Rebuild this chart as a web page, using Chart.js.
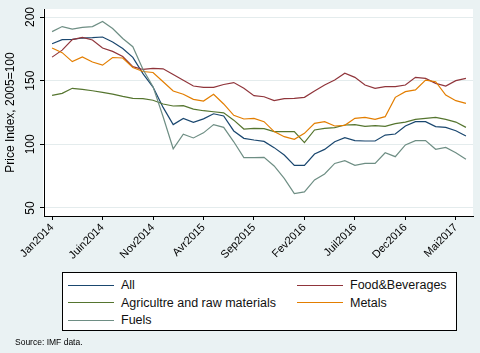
<!DOCTYPE html>
<html lang="fr">
<head>
<meta charset="UTF-8" />
<title>Commodity price indices</title>
<script src="https://cdn.jsdelivr.net/npm/chart.js@4.4.4/dist/chart.umd.min.js"></script>
<style>
  * { box-sizing: border-box; margin: 0; padding: 0; }
  body { width: 480px; height: 353px; background: #eaf2f3; position: relative; overflow: hidden; font-family: "Liberation Sans", Arial, sans-serif; }
  #chart { position: absolute; left: 0; top: 0; }
  .legend { position: absolute; left: 62px; top: 272px; width: 395px; height: 59px; background: #fff; border: 1px solid #000; font-size: 12.5px; color: #111; }
  .item { position: absolute; display: flex; align-items: center; height: 16px; }
  .item .ln { display: inline-block; width: 46px; border-top: 1px solid; margin-right: 7px; }
  .source { position: absolute; left: 15px; top: 337px; font-size: 8.5px; color: #000; }
</style>
</head>
<body>
<canvas id="chart" width="480" height="353"></canvas>
<div class="legend" id="legend"></div>
<div class="source">Source: IMF data.</div>
<script>
// monthly, Jan 2014 .. Jun 2017
const tickLabels = ['Jan2014', 'Juin2014', 'Nov2014', 'Avr2015', 'Sep2015', 'Fev2016', 'Juil2016', 'Dec2016', 'Mai2017']
const tickPos = [0, 5, 10, 15, 20, 25, 30, 35, 40]
const yTicks = [50, 100, 150, 200]

const seriesNames = ['All', 'Food&Beverages', 'Agricultre and raw materials', 'Metals', 'Fuels']
const colors = ['#1a476f', '#90353b', '#55752f', '#e37e00', '#6e8e84']

const all = [179, 182.2, 182.5, 183.5, 183.8, 184.3, 180.4, 175.3, 168.3, 155.5, 145, 129, 115.5, 120.3, 117.2, 120, 124, 122.3, 110.5, 104.7, 103.4, 102.3, 97.4, 91.6, 83.5, 83.5, 92.4, 96, 102.1, 105.2, 102.9, 102.6, 102.6, 107.3, 108.1, 114.4, 117.8, 117.8, 113.9, 113.3, 110.7, 106.5]
const food = [168.5, 174, 182.3, 184, 182, 175.6, 173, 169, 161, 158.8, 159.6, 159.3, 154.8, 150.4, 145.8, 144.7, 144.7, 147, 148.5, 144, 138.2, 137.4, 134.3, 135.9, 136.1, 136.9, 141.9, 146.6, 150.5, 155.8, 152.6, 146.6, 144, 145.3, 145.3, 146.6, 152.6, 151.8, 147.9, 145.8, 150, 151.8]
const agri = [138.5, 140, 144, 143.2, 142.1, 140.8, 139.5, 137.7, 136.1, 135.9, 134.6, 131.7, 130.1, 130.4, 127.7, 126.4, 125.6, 124.7, 119, 112, 112.5, 112.3, 110, 110, 110, 101.3, 111.3, 112.5, 113.1, 115.2, 115.4, 114.1, 114.7, 114.1, 116.2, 117.5, 119.6, 120.4, 121.2, 119.6, 117.5, 113.3]
const metals = [175.7, 172, 165, 168.7, 164.7, 162.2, 168.2, 167.8, 160.4, 157.2, 156.4, 149.2, 141.9, 139.3, 135.3, 134, 139.3, 131.7, 122.8, 119.9, 120.4, 117.8, 110, 106, 103.9, 108.6, 116.5, 117.8, 114.4, 114.9, 120.4, 121.2, 119.6, 121.7, 136.9, 141.4, 142.7, 150.5, 149.2, 138.7, 134.3, 132.2]
const fuels = [188.5, 192.5, 190.5, 191.8, 192.5, 196.5, 191, 183.1, 176.7, 159, 145.3, 121.7, 96.5, 108, 105, 109, 115.5, 113.3, 102, 89.5, 89.5, 89.8, 83, 73.3, 61.3, 62.6, 72, 76.7, 85, 87.2, 83.5, 85, 85, 93.4, 90.3, 99.5, 102.9, 102.9, 96.1, 97.6, 93.4, 88.2]

const seriesData = [all, food, agri, metals, fuels]
const FONT = '"Liberation Sans", Arial, sans-serif'

// legend, two columns like the original
const legend = document.getElementById('legend')
seriesNames.forEach((name, i) => {
  const col = i % 2, row = Math.floor(i / 2)
  const el = document.createElement('div')
  el.className = 'item'
  el.style.left = (col === 0 ? 5 : 234) + 'px'
  el.style.top = (4 + row * 17.5) + 'px'
  el.innerHTML = `<span class="ln" style="border-color:${colors[i]}"></span><span>${name}</span>`
  legend.appendChild(el)
})

const plotBg = {
  id: 'plotBg',
  beforeDraw(chart) {
    const {ctx, chartArea: a} = chart
    ctx.save()
    ctx.fillStyle = '#fff'
    ctx.fillRect(a.left - 1, a.top, a.right - a.left + 1, a.bottom - a.top)
    ctx.restore()
  },
  afterDraw(chart) {
    // vertical y tick labels, Stata style
    const {ctx} = chart
    const y = chart.scales.y
    ctx.save()
    ctx.fillStyle = '#000'
    ctx.font = '12px ' + FONT
    ctx.textAlign = 'center'
    ctx.textBaseline = 'middle'
    yTicks.forEach((v) => {
      ctx.save()
      ctx.translate(31, y.getPixelForValue(v))
      ctx.rotate(-Math.PI / 2)
      ctx.fillText(String(v), 0, 0)
      ctx.restore()
    })
    ctx.restore()
  },
}

Chart.defaults.font.family = FONT

new Chart(document.getElementById('chart'), {
  type: 'line',
  data: {
    datasets: seriesData.map((d, i) => ({
      label: seriesNames[i],
      data: d.map((v, k) => ({x: k, y: v})),
      borderColor: colors[i],
      borderWidth: 1.2,
      pointRadius: 0,
      tension: 0,
      fill: false,
      order: seriesData.length - i,
    })),
  },
  options: {
    responsive: false,
    animation: false,
    devicePixelRatio: 1,
    layout: {padding: {left: 0, right: 7, top: 9, bottom: 0}},
    plugins: {legend: {display: false}, tooltip: {enabled: false}},
    scales: {
      x: {
        type: 'linear',
        min: -0.8,
        max: 41.7,
        afterBuildTicks: (s) => { s.ticks = tickPos.map((v) => ({value: v})) },
        afterFit: (s) => { s.height = 137 },
        ticks: {
          callback: (v) => tickLabels[tickPos.indexOf(v)],
          minRotation: 45,
          maxRotation: 45,
          autoSkip: false,
          color: '#000',
          font: {size: 11},
          padding: 1,
        },
        grid: {drawOnChartArea: false, tickLength: 4, tickColor: '#000'},
        border: {color: '#000', width: 1},
      },
      y: {
        min: 43.7,
        max: 206.3,
        afterBuildTicks: (s) => { s.ticks = yTicks.map((v) => ({value: v})) },
        afterFit: (s) => { s.width = 44 },
        ticks: {display: false},
        grid: {color: '#e4eced', lineWidth: 1, tickLength: 4, tickColor: '#000'},
        border: {color: '#000', width: 1},
        title: {display: true, text: 'Price Index, 2005=100', color: '#000', font: {size: 12}, padding: {top: 3, bottom: 0}},
      },
    },
  },
  plugins: [plotBg],
})
</script>
</body>
</html>
